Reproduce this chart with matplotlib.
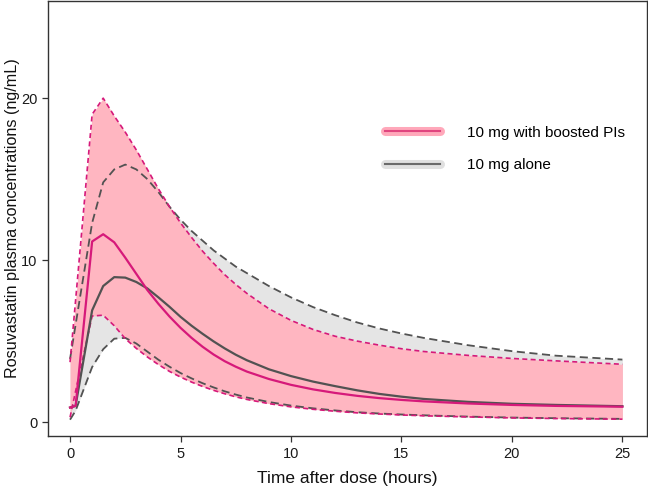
import matplotlib
matplotlib.use("Agg")
import matplotlib.pyplot as plt
from matplotlib.lines import Line2D
from matplotlib.legend_handler import HandlerTuple

# Time after dose (hours)
time_h = [0, 0.25, 1, 1.5, 2, 2.5, 3, 3.5, 4, 4.5, 5, 5.5, 6, 6.5, 7, 7.5, 8, 9, 10, 11, 12, 13, 14, 15,
          16, 18, 20, 22, 25]

# 10 mg with boosted PIs
pi_median = [0.9, 1.0, 11.15, 11.6, 11.1, 10.15, 9.15, 8.15, 7.3, 6.52, 5.82, 5.2, 4.65, 4.17, 3.76, 3.42,
             3.12, 2.66, 2.3, 2.02, 1.8, 1.62, 1.48, 1.37, 1.28, 1.15, 1.06, 1.0, 0.95]
pi_upper = [3.7, 7.5, 19.0, 20.0, 18.9, 17.9, 16.8, 15.6, 14.4, 13.3, 12.3, 11.4, 10.55, 9.8, 9.1, 8.5,
            7.95, 7.0, 6.28, 5.72, 5.3, 5.0, 4.75, 4.53, 4.36, 4.12, 3.93, 3.78, 3.57]
pi_lower = [0.3, 1.9, 6.55, 6.6, 5.95, 5.15, 4.55, 4.02, 3.55, 3.13, 2.78, 2.47, 2.2, 1.96, 1.75, 1.56,
            1.4, 1.14, 0.94, 0.79, 0.67, 0.57, 0.5, 0.44, 0.39, 0.32, 0.26, 0.22, 0.18]

# 10 mg alone
alone_median = [0.9, 1.0, 6.9, 8.4, 8.95, 8.92, 8.65, 8.25, 7.7, 7.12, 6.5, 5.95, 5.45, 4.98, 4.55, 4.16,
                3.82, 3.26, 2.84, 2.5, 2.22, 1.96, 1.74, 1.57, 1.43, 1.25, 1.13, 1.06, 0.98]
alone_upper = [3.9, 6.0, 12.3, 14.8, 15.6, 15.9, 15.6, 15.0, 14.2, 13.3, 12.5, 11.8, 11.2, 10.6, 10.1, 9.6,
               9.2, 8.4, 7.7, 7.1, 6.6, 6.15, 5.78, 5.47, 5.2, 4.75, 4.38, 4.1, 3.86]
alone_lower = [0.15, 0.7, 3.4, 4.5, 5.15, 5.2, 4.85, 4.35, 3.85, 3.42, 3.03, 2.7, 2.4, 2.14, 1.9, 1.7,
               1.52, 1.24, 1.02, 0.85, 0.72, 0.61, 0.53, 0.47, 0.42, 0.34, 0.28, 0.24, 0.2]

labels = ["10 mg with boosted PIs", "10 mg alone"]
x_ticks = [0, 5, 10, 15, 20, 25]
y_ticks = [0, 10, 20]

PINK_FILL = "#FFB6C1"
PINK_LINE = "#D6197A"
GREY_FILL = "#E5E5E5"
GREY_LINE = "#525252"

plt.rcParams["font.family"] = ["Liberation Sans", "DejaVu Sans"]

fig = plt.figure(figsize=(6.48, 4.87), dpi=100)
ax = fig.add_axes([0.074, 0.105, 0.924, 0.893])

ax.fill_between(time_h, alone_lower, alone_upper, color=GREY_FILL, lw=0, zorder=1)
ax.fill_between(time_h, pi_lower, pi_upper, color=PINK_FILL, lw=0, zorder=2)

ax.plot(time_h, alone_upper, color=GREY_LINE, lw=1.3, dashes=(4.5, 2.5), zorder=3)
ax.plot(time_h, alone_lower, color=GREY_LINE, lw=1.3, dashes=(4.5, 2.5), zorder=3)
ax.plot(time_h, pi_upper, color=PINK_LINE, lw=1.2, dashes=(3, 2), zorder=4)
ax.plot(time_h, pi_lower, color=PINK_LINE, lw=1.2, dashes=(3, 2), zorder=4)
ax.plot(time_h, alone_median, color=GREY_LINE, lw=1.6, zorder=5)
ax.plot(time_h, pi_median, color=PINK_LINE, lw=1.6, zorder=6)

ax.set_xlim(-1.0, 26.1)
ax.set_ylim(-0.85, 26)
ax.set_xticks(x_ticks)
ax.set_yticks(y_ticks)
ax.tick_params(direction="out", length=4, width=0.9, colors="#333333", labelsize=10.5,
               labelcolor="#1a1a1a")
ax.tick_params(axis="x", pad=4)
for sp in ax.spines.values():
    sp.set_color("#333333")
    sp.set_linewidth(1.0)

ax.set_xlabel("Time after dose (hours)", fontsize=12.5, color="#111111", labelpad=7)
ax.set_ylabel("Rosuvastatin plasma concentrations (ng/mL)", fontsize=11.6, color="#111111")
ax.yaxis.set_label_coords(-0.046, 0.5)

h_pi = (Line2D([0], [0], color="#FFA8BA", lw=6.5, solid_capstyle="round"),
        Line2D([0], [0], color="#E0457F", lw=1.5))
h_alone = (Line2D([0], [0], color="#E0E0E0", lw=6.5, solid_capstyle="round"),
           Line2D([0], [0], color="#6a6a6a", lw=1.5))
ax.legend([h_pi, h_alone], labels, handler_map={tuple: HandlerTuple(ndivide=1)},
          loc="upper left", bbox_to_anchor=(0.563, 0.713), frameon=False, borderpad=0,
          borderaxespad=0, handlelength=3.6, handletextpad=1.75, labelspacing=1.2, fontsize=11)

fig.savefig("out.png", dpi=100)
